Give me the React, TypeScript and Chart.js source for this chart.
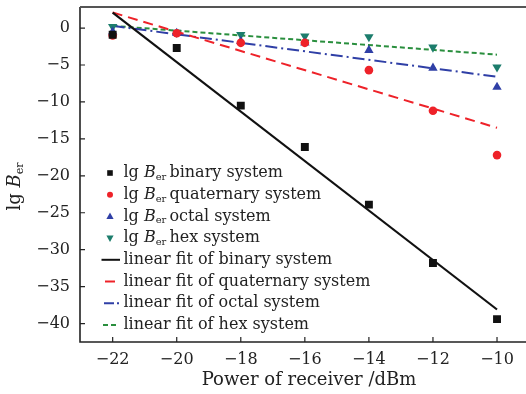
import React, { useEffect, useRef } from "react";
import { Chart, registerables } from "chart.js";

Chart.register(...registerables);

// ---- data ----
const powers = [-22, -20, -18, -16, -14, -12, -10];
const binary = [-0.9, -2.7, -10.5, -16.1, -23.9, -31.8, -39.4];
const quaternary = [-1.0, -0.7, -2.0, -2.0, -5.7, -11.2, -17.2];
const octal = [-0.5, -0.7, -1.8, -2.0, -3.0, -5.4, -8.0];
const hex = [0.2, -0.6, -0.9, -1.1, -1.2, -2.6, -5.3];

const fitX = [-22, -10];
const binaryFit = [2.1, -38.1];
const quaternaryFit = [2.1, -13.5];
const octalFit = [0.3, -6.6];
const hexFit = [0.3, -3.6];

const xTicks = [-22, -20, -18, -16, -14, -12, -10];
const yTicks = [0, -5, -10, -15, -20, -25, -30, -35, -40];

const seriesNames = ["binary system", "quaternary system", "octal system", "hex system"];
const fitLabels = [
  "linear fit of binary system",
  "linear fit of quaternary system",
  "linear fit of octal system",
  "linear fit of hex system",
];
const xTitle = "Power of receiver /dBm";

const FONT = '"DejaVu Serif"';
const BLACK = "#111111";
const RED = "#ee2229";
const BLUE = "#2f3fa6";
const TEAL = "#1c7d6c";
const GREEN = "#2a8f3e";

const pts = (xs: number[], ys: number[]) => xs.map((x, i) => ({ x, y: ys[i] }));
const minusFmt = (v: number) => String(v).replace("-", "\u2212");

type Part = { t: string; italic?: boolean; sub?: boolean };

function richWidth(ctx: CanvasRenderingContext2D, parts: Part[], size: number) {
  let w = 0;
  for (const p of parts) {
    const fs = p.sub ? size * 0.62 : size;
    ctx.font = `${p.italic ? "italic " : ""}${fs}px ${FONT}`;
    w += ctx.measureText(p.t).width;
  }
  return w;
}

function drawRich(ctx: CanvasRenderingContext2D, parts: Part[], x: number, y: number, size: number) {
  let cx = x;
  ctx.textBaseline = "middle";
  ctx.textAlign = "left";
  for (const p of parts) {
    const fs = p.sub ? size * 0.62 : size;
    ctx.font = `${p.italic ? "italic " : ""}${fs}px ${FONT}`;
    ctx.fillText(p.t, cx, p.sub ? y + size * 0.28 : y);
    cx += ctx.measureText(p.t).width;
  }
}

const berParts = (rest: string): Part[] => [
  { t: "lg " },
  { t: "B", italic: true },
  { t: "er ", sub: true },
  { t: rest },
];

const framePlugin = {
  id: "frame",
  afterDraw(chart: any) {
    const { ctx, chartArea } = chart;
    const { left, top, bottom } = chartArea;
    const right = chart.width;
    const xs = chart.scales.x;
    const ys = chart.scales.y;
    ctx.save();
    ctx.strokeStyle = "#222";
    ctx.lineWidth = 1.6;
    ctx.beginPath();
    ctx.moveTo(left, top);
    ctx.lineTo(left, bottom);
    ctx.lineTo(right, bottom);
    ctx.stroke();
    ctx.strokeStyle = "#555";
    ctx.lineWidth = 2;
    ctx.beginPath();
    ctx.moveTo(left, top);
    ctx.lineTo(right, top);
    ctx.stroke();
    // inward ticks
    ctx.strokeStyle = "#222";
    ctx.lineWidth = 1.2;
    ctx.beginPath();
    for (const v of yTicks) {
      const y = ys.getPixelForValue(v);
      ctx.moveTo(left, y);
      ctx.lineTo(left + 5, y);
    }
    for (const v of xTicks) {
      const x = xs.getPixelForValue(v);
      ctx.moveTo(x, bottom);
      ctx.lineTo(x, bottom - 5);
    }
    ctx.stroke();

    // x axis title
    ctx.fillStyle = "#222";
    ctx.font = `18px ${FONT}`;
    ctx.textAlign = "center";
    ctx.textBaseline = "middle";
    ctx.fillText(xTitle, left + 229, bottom + 38);

    // y axis title
    const yParts: Part[] = [{ t: "lg " }, { t: "B", italic: true }, { t: "er", sub: true }];
    const tsize = 18;
    const w = richWidth(ctx, yParts, tsize);
    ctx.save();
    ctx.translate(15, (top + bottom) / 2 + 12);
    ctx.rotate(-Math.PI / 2);
    drawRich(ctx, yParts, -w / 2, 0, tsize);
    ctx.restore();

    // legend
    const rowH = 21.7;
    const y0 = top + 166;
    const mx = left + 30;
    const tx = left + 43.5;
    const colors = [BLACK, RED, BLUE, TEAL];
    for (let i = 0; i < 4; i++) {
      const y = y0 + i * rowH;
      ctx.fillStyle = colors[i];
      ctx.beginPath();
      if (i === 0) {
        ctx.rect(mx - 2.8, y - 2.8, 5.6, 5.6);
      } else if (i === 1) {
        ctx.arc(mx, y, 3, 0, Math.PI * 2);
      } else if (i === 2) {
        ctx.moveTo(mx, y - 3.8);
        ctx.lineTo(mx + 3.6, y + 2.6);
        ctx.lineTo(mx - 3.6, y + 2.6);
        ctx.closePath();
      } else {
        ctx.moveTo(mx, y + 3.8);
        ctx.lineTo(mx + 3.6, y - 2.6);
        ctx.lineTo(mx - 3.6, y - 2.6);
        ctx.closePath();
      }
      ctx.fill();
      ctx.fillStyle = "#222";
      drawRich(ctx, berParts(seriesNames[i]), tx, y, 16);
    }
    const segs: [string, number[][]][] = [
      [BLACK, [[left + 21.5, left + 40]]],
      [RED, [[left + 25, left + 35]]],
      [BLUE, [[left + 24, left + 34], [left + 37, left + 39]]],
      [GREEN, [[left + 23, left + 28], [left + 31, left + 36]]],
    ];
    for (let i = 0; i < 4; i++) {
      const y = y0 + (i + 4) * rowH;
      ctx.strokeStyle = segs[i][0];
      ctx.lineWidth = 2;
      ctx.beginPath();
      for (const [a, b] of segs[i][1]) {
        ctx.moveTo(a, y);
        ctx.lineTo(b, y);
      }
      ctx.stroke();
      ctx.fillStyle = "#222";
      drawRich(ctx, [{ t: fitLabels[i] }], tx, y, 16);
    }
    ctx.restore();
  },
};

export default function App() {
  const ref = useRef<HTMLCanvasElement | null>(null);
  useEffect(() => {
    if (!ref.current) return;
    const chart = new Chart(ref.current, {
      type: "scatter",
      data: {
        datasets: [
          {
            label: "binary",
            data: pts(powers, binary),
            pointStyle: "rect",
            pointRadius: 5.6,
            backgroundColor: BLACK,
            borderColor: BLACK,
            borderWidth: 0,
            order: 0,
          },
          {
            label: "quaternary",
            data: pts(powers, quaternary),
            pointStyle: "circle",
            pointRadius: 4.3,
            backgroundColor: RED,
            borderColor: RED,
            borderWidth: 0,
            order: 0,
          },
          {
            label: "octal",
            data: pts(powers, octal),
            pointStyle: "triangle",
            pointRadius: 5.4,
            backgroundColor: BLUE,
            borderColor: BLUE,
            borderWidth: 0,
            order: 0,
          },
          {
            label: "hex",
            data: pts(powers, hex),
            pointStyle: "triangle",
            rotation: 180,
            pointRadius: 5.4,
            backgroundColor: TEAL,
            borderColor: TEAL,
            borderWidth: 0,
            order: 0,
          },
          {
            label: fitLabels[0],
            data: pts(fitX, binaryFit),
            showLine: true,
            pointRadius: 0,
            borderColor: BLACK,
            borderWidth: 2.2,
            order: 1,
          },
          {
            label: fitLabels[1],
            data: pts(fitX, quaternaryFit),
            showLine: true,
            pointRadius: 0,
            borderColor: RED,
            borderWidth: 2,
            borderDash: [10, 6],
            order: 1,
          },
          {
            label: fitLabels[2],
            data: pts(fitX, octalFit),
            showLine: true,
            pointRadius: 0,
            borderColor: BLUE,
            borderWidth: 2,
            borderDash: [12, 4, 2, 4],
            order: 1,
          },
          {
            label: fitLabels[3],
            data: pts(fitX, hexFit),
            showLine: true,
            pointRadius: 0,
            borderColor: GREEN,
            borderWidth: 2,
            borderDash: [5, 3],
            order: 1,
          },
        ],
      },
      options: {
        responsive: false,
        animation: false,
        layout: { padding: { top: 7, right: 0, left: 0, bottom: 0 } },
        plugins: { legend: { display: false }, tooltip: { enabled: false } },
        scales: {
          x: {
            type: "linear",
            min: -23.02,
            max: -9.27,
            grid: { display: false, drawTicks: false },
            border: { display: false },
            afterBuildTicks: (s: any) => {
              s.ticks = xTicks.map((v) => ({ value: v }));
            },
            afterFit: (s: any) => {
              s.height = 52;
              s.paddingLeft = 0;
              s.paddingRight = 0;
            },
            ticks: {
              padding: 8,
              color: "#222",
              font: { family: FONT, size: 16 },
              maxRotation: 0,
              callback: (v: any) => minusFmt(v),
            },
          },
          y: {
            type: "linear",
            min: -42.5,
            max: 2.85,
            grid: { display: false, drawTicks: false },
            border: { display: false },
            afterBuildTicks: (s: any) => {
              s.ticks = yTicks.map((v) => ({ value: v }));
            },
            afterFit: (s: any) => {
              s.width = 80;
              s.paddingTop = 0;
              s.paddingBottom = 0;
            },
            ticks: {
              padding: 10,
              color: "#222",
              font: { family: FONT, size: 16 },
              callback: (v: any) => minusFmt(v),
            },
          },
        },
      },
      plugins: [framePlugin],
    });
    return () => chart.destroy();
  }, []);
  return (
    <div style={{ position: "absolute", left: 0, top: 0, width: 526, height: 394, background: "#fff" }}>
      <canvas ref={ref} width={526} height={394} />
    </div>
  );
}
